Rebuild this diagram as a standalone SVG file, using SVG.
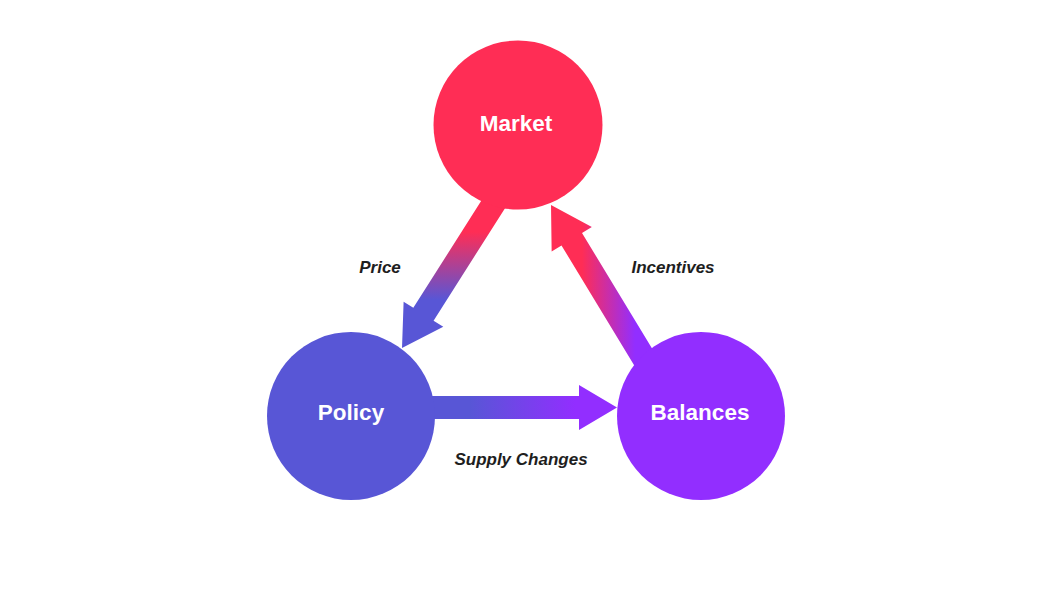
<svg xmlns="http://www.w3.org/2000/svg" width="1055" height="597" viewBox="0 0 1055 597">
<style>
.node-label{font-family:"Liberation Sans",Arial,sans-serif;font-weight:bold;font-size:22.5px;fill:#ffffff;text-anchor:middle}
.edge-label{font-family:"Liberation Sans",Arial,sans-serif;font-weight:bold;font-style:italic;font-size:17px;fill:#1e1e1e;text-anchor:middle}
</style>
<defs>
<linearGradient id="gPrice" gradientUnits="userSpaceOnUse" x1="0" y1="232" x2="0" y2="300">
<stop offset="0" stop-color="#FF2D55"/>
<stop offset="1" stop-color="#5856D6"/>
</linearGradient>
<linearGradient id="gSupply" gradientUnits="userSpaceOnUse" x1="470" y1="0" x2="575" y2="0">
<stop offset="0" stop-color="#5856D6"/>
<stop offset="1" stop-color="#922EFF"/>
</linearGradient>
<linearGradient id="gInc" gradientUnits="userSpaceOnUse" x1="582" y1="0" x2="635" y2="0">
<stop offset="0" stop-color="#FF2D55"/>
<stop offset="1" stop-color="#922EFF"/>
</linearGradient>
</defs>
<rect width="1055" height="597" fill="#ffffff"/>
<g id="connectors">
<polygon fill="url(#gPrice)" points="506.13,206.43 433.58,320.66 443.29,326.83 402,348 403.61,301.63 413.32,307.8 485.87,193.57"/>
<polygon fill="url(#gInc)" points="655.26,353.78 582,232.98 591.83,227.02 551,205 551.65,251.38 561.48,245.42 634.74,366.22"/>
<polygon fill="url(#gSupply)" points="425,396 579,396 579,385 617,407.5 579,430 579,419 425,419"/>
<text class="edge-label" x="380" y="273">Price</text>
<text class="edge-label" x="673" y="273">Incentives</text>
<text class="edge-label" x="521" y="465">Supply Changes</text>
</g>
<g id="market">
<circle cx="518" cy="125" r="84.5" fill="#FF2D55"/>
<text class="node-label" x="516" y="130.5">Market</text>
</g>
<g id="policy">
<circle cx="351" cy="416" r="84" fill="#5856D6"/>
<text class="node-label" x="351" y="420">Policy</text>
</g>
<g id="balances">
<circle cx="701" cy="416" r="84" fill="#922EFF"/>
<text class="node-label" x="700" y="419.5">Balances</text>
</g>
</svg>
